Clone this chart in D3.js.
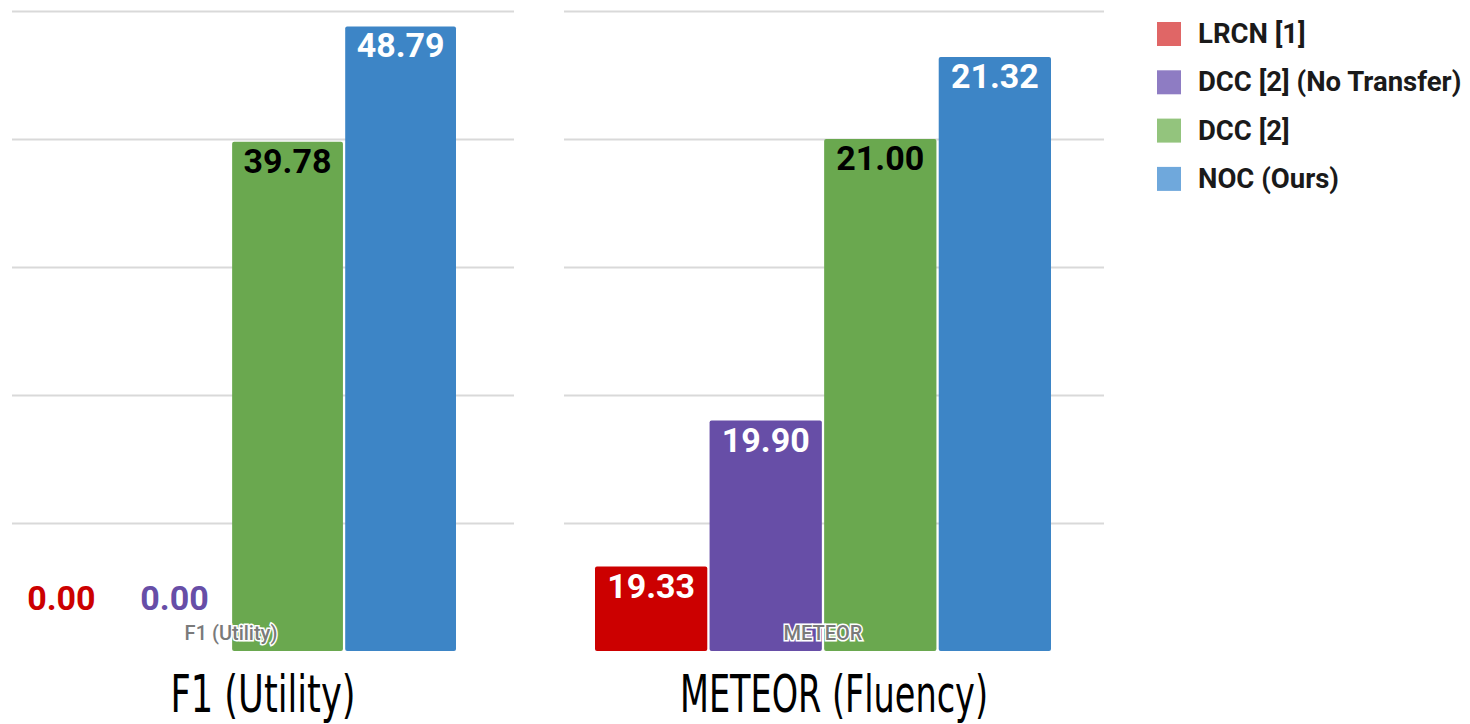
<!DOCTYPE html>
<html>
<head>
<meta charset="utf-8">
<script src="https://cdn.jsdelivr.net/npm/d3@7"></script>
<style>
  html, body { margin: 0; padding: 0; background: #fff; }
  svg { display: block; }
</style>
</head>
<body>
<svg id="chart" width="1470" height="724"></svg>
<script>
// ---- data ----
const series = ["LRCN [1]", "DCC [2] (No Transfer)", "DCC [2]", "NOC (Ours)"];
const axisLabels = ["F1 (Utility)", "METEOR"];
const panelTitles = ["F1 (Utility)", "METEOR (Fluency)"];
const f1Values = [0.00, 0.00, 39.78, 48.79];
const meteorValues = [19.33, 19.90, 21.00, 21.32];
const f1Ticks = [0, 10, 20, 30, 40, 50];
const meteorTicks = [19.0, 19.5, 20.0, 20.5, 21.0, 21.5];

const barColors = ["#cc0000", "#674ea7", "#6aa84f", "#3d85c6"];
const legendColors = ["#e06666", "#8e7cc3", "#93c47d", "#6fa8dc"];
const labelColors = ["#ffffff", "#ffffff", "#000000", "#ffffff"];

const svg = d3.select("#chart");

const panels = [
  { values: f1Values, ticks: f1Ticks, axis: axisLabels[0], title: panelTitles[0],
    grid: [12, 514], bars: [6, 456], titleWidth: 185 },
  { values: meteorValues, ticks: meteorTicks, axis: axisLabels[1], title: panelTitles[1],
    grid: [564, 1104], bars: [595, 1051], titleWidth: 308 }
];

const yTop = 11, yBottom = 651;

panels.forEach(p => {
  const g = svg.append("g");
  const y = d3.scaleLinear()
    .domain([p.ticks[0], p.ticks[p.ticks.length - 1]])
    .range([yBottom, yTop]);
  const x = d3.scaleBand().domain(series).range(p.bars).paddingInner(0.02).paddingOuter(0);

  // gridlines (skip baseline)
  const yAxis = d3.axisLeft(y).tickValues(p.ticks.slice(1))
    .tickSize(-(p.grid[1] - p.grid[0])).tickFormat("");
  const ga = g.append("g").attr("transform", `translate(${p.grid[0]},0)`).call(yAxis);
  ga.select(".domain").remove();
  ga.selectAll(".tick line").attr("stroke", "#d9d9d9").attr("stroke-width", 2);

  // bars
  g.selectAll("rect.bar").data(p.values).join("rect")
    .attr("class", "bar")
    .attr("x", (d, i) => x(series[i]))
    .attr("width", x.bandwidth())
    .attr("y", d => y(d))
    .attr("height", d => Math.max(0, y(p.ticks[0]) - y(d)))
    .attr("rx", 2)
    .attr("fill", (d, i) => barColors[i]);

  // value labels
  g.selectAll("text.val").data(p.values).join("text")
    .attr("class", "val")
    .attr("x", (d, i) => x(series[i]) + x.bandwidth() / 2)
    .attr("y", d => (y(p.ticks[0]) - y(d) < 45) ? y(p.ticks[0]) - 41 : y(d) + 31)
    .attr("text-anchor", "middle")
    .attr("font-family", "Roboto, sans-serif")
    .attr("font-weight", 700)
    .attr("font-size", 34)
    .attr("fill", (d, i) => (y(p.ticks[0]) - y(d) < 45) ? barColors[i] : labelColors[i])
    .text(d => d.toFixed(2));

  // small category label with halo
  const cx = (p.bars[0] + p.bars[1]) / 2;
  g.append("text")
    .attr("x", cx).attr("y", 640)
    .attr("text-anchor", "middle")
    .attr("font-family", "Roboto, sans-serif")
    .attr("font-weight", 500)
    .attr("font-size", 20)
    .attr("fill", "#7a7a7a")
    .attr("stroke", "#fff").attr("stroke-width", 3).attr("paint-order", "stroke")
    .text(p.axis);

  // big title
  const tx = (p.grid[0] + p.grid[1]) / 2;
  g.append("text")
    .attr("x", tx).attr("y", 712)
    .attr("text-anchor", "middle")
    .attr("font-family", "'Liberation Sans Narrow', 'DejaVu Sans Condensed', sans-serif")
    .attr("font-size", 51)
    .attr("fill", "#000")
    .attr("textLength", p.titleWidth)
    .attr("lengthAdjust", "spacingAndGlyphs")
    .text(p.title);
});

// legend
const lg = svg.append("g").attr("transform", "translate(1157,22)");
const rows = lg.selectAll("g").data(series).join("g")
  .attr("transform", (d, i) => `translate(0,${i * 48.3})`);
rows.append("rect").attr("width", 24).attr("height", 24).attr("fill", (d, i) => legendColors[i]);
rows.append("text")
  .attr("x", 41).attr("y", 21)
  .attr("font-family", "Roboto, sans-serif")
  .attr("font-weight", 700)
  .attr("font-size", 27.5)
  .attr("fill", "#1a1a1a")
  .text(d => d);
</script>
</body>
</html>
